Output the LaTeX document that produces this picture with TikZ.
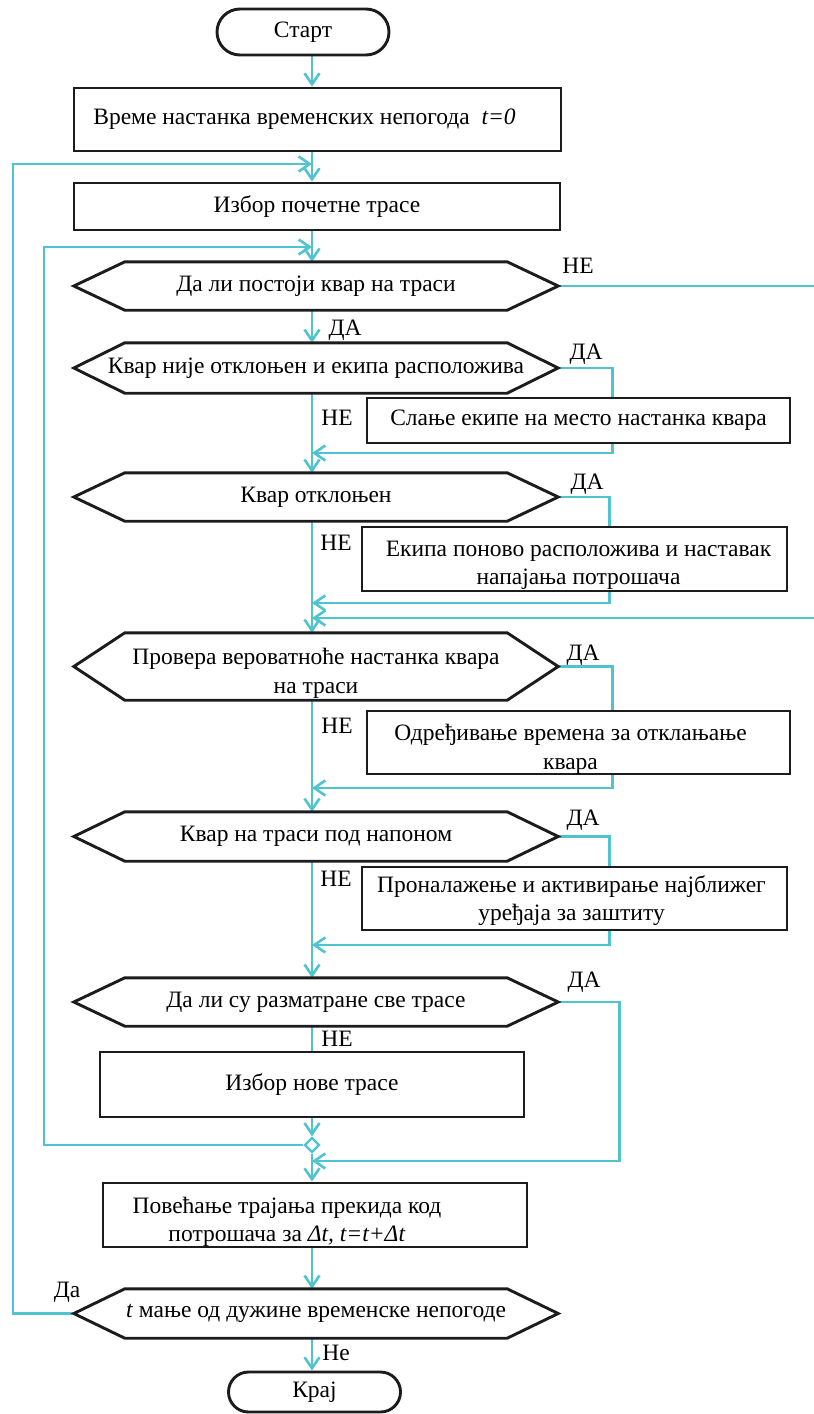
\documentclass[tikz,border=0pt]{standalone}
\usepackage{fontspec}
\setmainfont{Liberation Serif}
\usetikzlibrary{arrows.meta,shapes.misc,shapes.geometric}

\definecolor{lineC}{RGB}{79,196,207}
\definecolor{frameC}{RGB}{28,28,28}

\pgfdeclarelayer{bg}
\pgfsetlayers{bg,main}

% hexagonal outline around a (plain) decision node
\newcommand\hexoutline[1]{%
  \draw[hexline] (#1.west) -- ([xshift=51pt]#1.north west) -- ([xshift=-51pt]#1.north east)
    -- (#1.east) -- ([xshift=-51pt]#1.south east) -- ([xshift=51pt]#1.south west) -- cycle;}

\tikzset{
  txt/.style={font=\fontsize{23.5}{28.5}\selectfont},
  box/.style 2 args={txt, draw=frameC, line width=2.9pt, fill=white, inner sep=0pt,
    align=center, minimum width=#1, minimum height=#2},
  dec/.style={txt, inner sep=0pt, align=center, minimum width=484pt, minimum height=#1},
  hexline/.style={draw=frameC, line width=2.9pt, line join=miter},
  term/.style={txt, rounded rectangle, draw=frameC, line width=2.9pt, fill=white,
    inner sep=0pt, minimum width=172pt, minimum height=#1},
  inner/.style={txt, align=center},
  link/.style={draw=lineC, line width=2.6pt},
  arr/.style={link, -{Straight Barb[length=11pt,width=15pt]}},
  tag/.style={txt, inner sep=0pt, text height=15.5pt, text depth=0pt},
  junction/.style={diamond, draw=lineC, line width=2.3pt, fill=white, aspect=1,
    minimum size=15pt, inner sep=0pt},
}

\begin{document}
\begin{tikzpicture}[x=1pt, y=-1pt]
\useasboundingbox (0,0) rectangle (814,1414);

% reference columns for the connectors
\coordinate (axis) at (312,0);
\coordinate (outL) at (13,0);
\coordinate (inL)  at (44,0);
\coordinate (offR) at (818,0);

% merge points on the main line
\coordinate (m1) at (312,164);
\coordinate (m2) at (312,247);
\coordinate (m3) at (312,453);
\coordinate (m4) at (312,603);
\coordinate (m5) at (312,618);
\coordinate (m6) at (312,788);
\coordinate (m7) at (312,945);
\coordinate (m8) at (312,1161);

% terminals
\node[term=46pt] (st) at (303,32) {Старт};
\node[term=40pt] (en) at (314.5,1392) {Крај};

% process boxes
\node[box={487pt}{63pt}, label={[inner, xshift=-13pt, name=b1t]center:{Време настанка временских непогода \ \textit{t=0}}}] (b1) at (317.5,119.5) {};
\node[box={486pt}{47pt}] (b2) at (317,206.5) {Избор почетне трасе};
\node[box={423pt}{45pt}] (b3) at (578.5,420.5) {Слање екипе на место настанка квара};
\node[box={425pt}{64pt}, label={[inner, xshift=4pt, yshift=-6.5pt, name=b4t]center:{Екипа поново расположива и наставак\\напајања потрошача}}] (b4) at (574.5,559) {};
\node[box={423pt}{63pt}, label={[inner, xshift=-8pt, yshift=-7pt, name=b5t]center:{Одређивање времена за отклањање\\квара}}] (b5) at (578.5,742.5) {};
\node[box={425pt}{63pt}, label={[inner, xshift=-3pt, yshift=-2pt, name=b6t]center:{Проналажење и активирање најближег\\уређаја за заштиту}}] (b6) at (574.5,898.5) {};
\node[box={424pt}{65pt}] (b7) at (312,1084.5) {Избор нове трасе};
\node[box={424pt}{64pt}, label={[inner, xshift=-28pt, yshift=-7pt, name=b8t]center:{Повећање трајања прекида код\\потрошача за \textit{Δt, t=t+Δt}}}] (b8) at (315,1215) {};

% decisions
\node[dec=48pt] (d1) at (316,286) {Да ли постоји квар на траси};
\node[dec=50pt] (d2) at (316,368) {Квар није отклоњен и екипа расположива};
\node[dec=48pt] (d3) at (316,497) {Квар отклоњен};
\node[dec=67pt, label={[inner, yshift=-7pt, name=d4t]center:{Провера вероватноће настанка квара\\на траси}}] (d4) at (316,666.5) {};
\node[dec=49pt] (d5) at (316,836.5) {Квар на траси под напоном};
\node[dec=48pt] (d6) at (316,1002) {Да ли су разматране све трасе};
\node[dec=49pt] (d7) at (316,1313.5) {\textit{t} мање од дужине временске непогоде};
\foreach \d in {d1,d2,d3,d4,d5,d6,d7} {\hexoutline{\d}}

% junction of the inner loop
\node[junction] (jn) at (312,1145) {};

% branch labels
\node[tag] (t1)  at (578,266)  {НЕ};
\node[tag] (t2)  at (345,328)  {ДА};
\node[tag] (t3)  at (586,352)  {ДА};
\node[tag] (t4)  at (337,418)  {НЕ};
\node[tag] (t5)  at (587,482)  {ДА};
\node[tag] (t6)  at (336,543)  {НЕ};
\node[tag] (t7)  at (583,653)  {ДА};
\node[tag] (t8)  at (337,726)  {НЕ};
\node[tag] (t9)  at (583,818)  {ДА};
\node[tag] (t10) at (336,879)  {НЕ};
\node[tag] (t11) at (584,980)  {ДА};
\node[tag] (t12) at (337,1039) {НЕ};
\node[tag] (t13) at (67,1290)  {Да};
\node[tag] (t14) at (336,1353) {Не};

% connectors
\begin{pgfonlayer}{bg}
\draw[arr] (st.south -| axis) -- (b1.north -| axis);
\draw[arr] (b1.south -| axis) -- (b2.north -| axis);
\draw[arr] (b2.south -| axis) -- (d1.north -| axis);
\draw[arr] (d1.east) -- (d1.east -| offR) |- (m5);
\draw[arr] (d1.south -| axis) -- (d2.north -| axis);
\draw[arr] (d2.east) -- ++(54,0) |- (m3);
\draw[arr] (d2.south -| axis) -- (d3.north -| axis);
\draw[arr] (d3.east) -- ++(51,0) |- (m4);
\draw[arr] (d3.south -| axis) -- (d4.north -| axis);
\draw[arr] (d4.east) -- ++(54,0) |- (m6);
\draw[arr] (d4.south -| axis) -- (d5.north -| axis);
\draw[arr] (d5.east) -- ++(51,0) |- (m7);
\draw[arr] (d5.south -| axis) -- (d6.north -| axis);
\draw[arr] (d6.east) -- ++(61,0) |- (m8);
\draw[link] (d6.south -| axis) -- (b7.north -| axis);
\draw[arr] (b7.south -| axis) -- (jn.north);
\draw[arr] (jn.west) -- (jn.west -| inL) |- (m2);
\draw[arr] (jn.south) -- (b8.north -| axis);
\draw[arr] (b8.south -| axis) -- (d7.north -| axis);
\draw[arr] (d7.west) -- (d7.west -| outL) |- (m1);
\draw[arr] (d7.south -| axis) -- (en.north -| axis);
\end{pgfonlayer}
\end{tikzpicture}
\end{document}
